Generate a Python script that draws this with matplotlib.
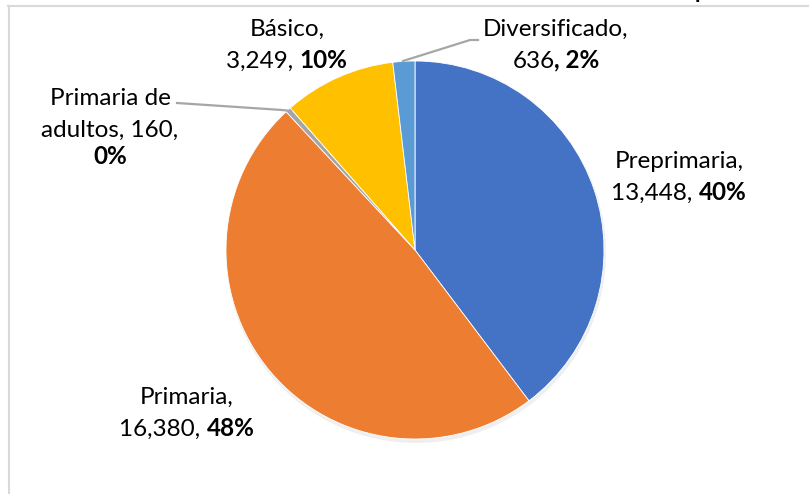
import matplotlib
matplotlib.use("Agg")
import matplotlib.pyplot as plt
from matplotlib.lines import Line2D

plt.rcParams['font.family'] = ['Lato', 'DejaVu Sans']

categories = ["Preprimaria", "Primaria", "Primaria de adultos", "Básico", "Diversificado"]
values = [13448, 16380, 160, 3249, 636]
colors = ["#4472C4", "#ED7D31", "#A5A5A5", "#FFC000", "#5B9BD5"]

W, H = 809, 494
fig = plt.figure(figsize=(W / 100, H / 100), dpi=100)
ax = fig.add_axes([0, 0, 1, 1])

cx, cy, r = 415, H - 250, 189
# subtle shadow
ax.pie(values, colors=["#00000010"] * len(values), startangle=90, counterclock=False,
       center=(cx + 1, cy - 3), radius=r + 1, wedgeprops=dict(linewidth=0))
ax.pie(values, colors=colors, startangle=90, counterclock=False,
       center=(cx, cy), radius=r, wedgeprops=dict(edgecolor="white", linewidth=0.6))
ax.set_xlim(0, W)
ax.set_ylim(0, H)
ax.set_aspect("equal")
ax.axis("off")

total = sum(values)
pcts = [f"{round(v / total * 100)}%" for v in values]
fmt = [f"{v:,}" for v in values]

FS = 17.5
lh = 31.5  # line height in pixels


def Y(y):
    return H - y


def label(lines_reg, last_reg, last_bold, xc, ytop):
    y = ytop
    for ln in lines_reg:
        ax.text(xc, Y(y), ln, ha="center", va="baseline", fontsize=FS, color="black")
        y += lh
    t1 = ax.text(0, Y(y), last_reg, ha="left", va="baseline", fontsize=FS, color="black")
    t2 = ax.annotate(last_bold, xy=(1, 0), xycoords=t1, ha="left", va="bottom",
                     fontsize=FS, fontweight="bold", color="black")
    fig.canvas.draw()
    rend = fig.canvas.get_renderer()
    w1 = t1.get_window_extent(rend).width
    w2 = t2.get_window_extent(rend).width
    t1.set_x(xc - (w1 + w2) / 2)


label(["Preprimaria,"], f"{fmt[0]}, ", pcts[0], 679, 168)
label(["Primaria,"], f"{fmt[1]}, ", pcts[1], 187, 404)
label(["Primaria de", f"adultos, {fmt[2]},"], "", pcts[2], 110, 105)
label(["Básico,"], f"{fmt[3]}, ", pcts[3], 287, 36)
label(["Diversificado,"], f"{fmt[4]}", f", {pcts[4]}", 556, 36)

# leader lines
lc = "#A6A6A6"
ax.add_line(Line2D([177, 282, 291], [Y(103), Y(110), Y(111)], color=lc, lw=1.6))
ax.add_line(Line2D([403, 470, 478], [Y(61), Y(40), Y(40)], color=lc, lw=1.6))

# chart frame (top and left edges visible)
fig.add_artist(Line2D([8 / W, 1], [1 - 6.5 / H, 1 - 6.5 / H], transform=fig.transFigure,
                      color="#D9D9D9", lw=1.5))
fig.add_artist(Line2D([9 / W, 9 / W], [0, 1 - 6.5 / H], transform=fig.transFigure,
                      color="#D9D9D9", lw=1.5))

# fragment of the cut-off title above the frame (cut off in the reference too)
fig.text(695 / W, 1 + 1.5 / H, "p", ha="left", va="baseline", fontsize=16,
         fontweight="bold", color="black")

fig.savefig("out.png", dpi=100)
